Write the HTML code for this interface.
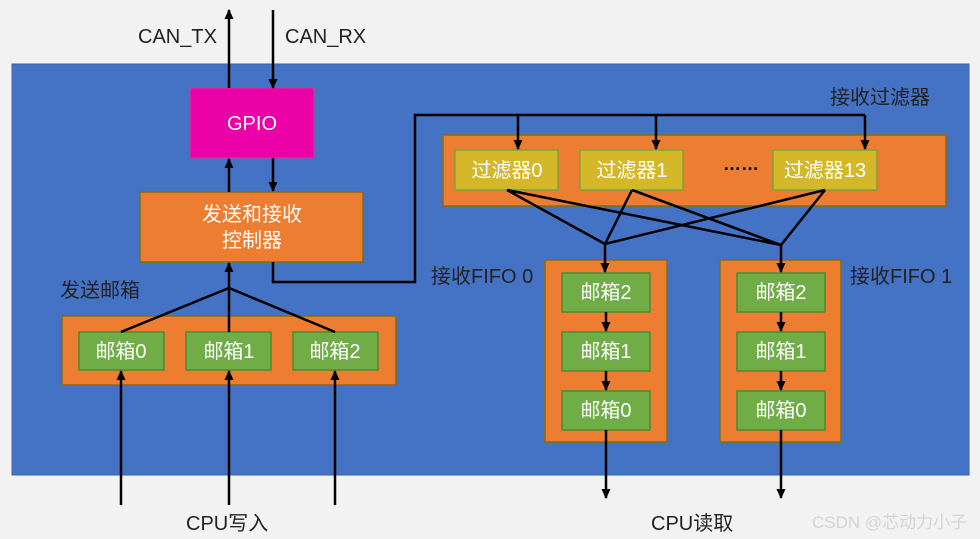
<!DOCTYPE html><html><head><meta charset="utf-8"><style>body{margin:0;background:#f2f2f2}svg{display:block}text{font-family:"Liberation Sans","Noto Sans CJK SC",sans-serif}</style></head><body>
<svg width="980" height="539" viewBox="0 0 980 539" xmlns="http://www.w3.org/2000/svg">
<defs><marker id="a" markerWidth="10" markerHeight="10" refX="9" refY="5" orient="auto" markerUnits="userSpaceOnUse"><path d="M0,0.5L10,5L0,9.5z" fill="#000"/></marker></defs>
<rect x="0" y="0" width="980" height="539" fill="#f2f2f2"/>
<rect x="12" y="64" width="957" height="411" fill="#4472c4" stroke="#3a62a8"/>
<g fill="#ed7d31" stroke="#8a6a10" stroke-width="1.5">
<rect x="140" y="192" width="223" height="70"/>
<rect x="443" y="135" width="503" height="71"/>
<rect x="62" y="316" width="334" height="69"/>
<rect x="545" y="260" width="122" height="182"/>
<rect x="720" y="260" width="121" height="182"/>
</g>
<rect x="190" y="88" width="124" height="70" fill="#ec00a8" stroke="#c8409a"/>
<g fill="#d4b829" stroke="#7fa23a" stroke-width="1.5">
<rect x="455" y="150" width="103" height="40"/><rect x="580" y="150" width="103" height="40"/><rect x="773" y="150" width="104" height="40"/>
</g>
<g fill="#70ad47" stroke="#4e8a2e" stroke-width="1.5">
<rect x="79" y="332" width="85" height="38"/><rect x="186" y="332" width="85" height="38"/><rect x="293" y="332" width="85" height="38"/>
<rect x="562" y="273" width="88" height="39"/><rect x="562" y="332" width="88" height="39"/><rect x="562" y="391" width="88" height="39"/>
<rect x="737" y="273" width="88" height="39"/><rect x="737" y="332" width="88" height="39"/><rect x="737" y="391" width="88" height="39"/>
</g>
<g stroke="#000" stroke-width="2.5" fill="none">
<line x1="229" y1="88" x2="229" y2="10" marker-end="url(#a)"/>
<line x1="273" y1="10" x2="273" y2="88" marker-end="url(#a)"/>
<line x1="229" y1="192" x2="229" y2="159" marker-end="url(#a)"/>
<line x1="273" y1="158" x2="273" y2="191" marker-end="url(#a)"/>
<polyline points="273,262 273,282 415,282 415,115 865,115"/>
<line x1="518" y1="115" x2="518" y2="149" marker-end="url(#a)"/>
<line x1="656" y1="115" x2="656" y2="149" marker-end="url(#a)"/>
<line x1="865" y1="115" x2="865" y2="149" marker-end="url(#a)"/>
<polyline points="507,190 605,244 632,190"/><polyline points="825,190 605,244"/>
<polyline points="507,190 781,245 632,190"/><line x1="825" y1="190" x2="781" y2="245"/>
<line x1="605" y1="244" x2="605" y2="272" marker-end="url(#a)"/>
<line x1="781" y1="245" x2="781" y2="272" marker-end="url(#a)"/>
<line x1="606" y1="312" x2="606" y2="331" marker-end="url(#a)"/>
<line x1="606" y1="371" x2="606" y2="390" marker-end="url(#a)"/>
<line x1="781" y1="312" x2="781" y2="331" marker-end="url(#a)"/>
<line x1="781" y1="371" x2="781" y2="390" marker-end="url(#a)"/>
<line x1="606" y1="430" x2="606" y2="498" marker-end="url(#a)"/>
<line x1="781" y1="430" x2="781" y2="498" marker-end="url(#a)"/>
<polyline points="121,332 229,288 335,332"/>
<line x1="229" y1="332" x2="229" y2="288"/>
<line x1="229" y1="288" x2="229" y2="263" marker-end="url(#a)"/>
<line x1="121" y1="505" x2="121" y2="371" marker-end="url(#a)"/>
<line x1="229" y1="505" x2="229" y2="371" marker-end="url(#a)"/>
<line x1="335" y1="505" x2="335" y2="371" marker-end="url(#a)"/>
</g>
<g fill="#fff" font-size="20" text-anchor="middle">
<text x="252" y="130">GPIO</text>
<text x="252" y="221">发送和接收</text><text x="252" y="247">控制器</text>
<text x="507" y="177">过滤器0</text><text x="632" y="177">过滤器1</text><text x="825" y="177">过滤器13</text>
<text x="121" y="358">邮箱0</text><text x="229" y="358">邮箱1</text><text x="335" y="358">邮箱2</text>
<text x="606" y="299">邮箱2</text><text x="606" y="358">邮箱1</text><text x="606" y="417">邮箱0</text>
<text x="781" y="299">邮箱2</text><text x="781" y="358">邮箱1</text><text x="781" y="417">邮箱0</text>
</g>
<text x="741" y="170" fill="#000" font-size="18" font-weight="bold" text-anchor="middle">……</text>
<g fill="#222" font-size="20">
<text x="138" y="43">CAN_TX</text><text x="285" y="43">CAN_RX</text>
<text x="60" y="297">发送邮箱</text><text x="830" y="104">接收过滤器</text>
<text x="431" y="283">接收FIFO 0</text><text x="850" y="283">接收FIFO 1</text>
<text x="186" y="530">CPU写入</text><text x="651" y="530">CPU读取</text>
</g>
<text x="812" y="528" fill="#d4d4d4" font-size="17">CSDN @芯动力小子</text>
</svg></body></html>
